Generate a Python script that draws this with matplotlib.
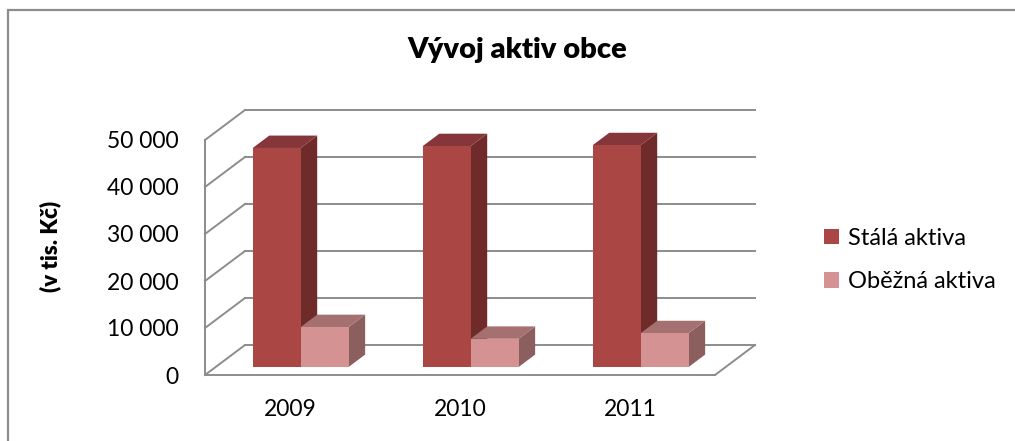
import matplotlib
matplotlib.use("Agg")
import matplotlib.pyplot as plt
from matplotlib.patches import Polygon, Patch, Rectangle
from matplotlib.ticker import FuncFormatter

plt.rcParams['font.family'] = ['Lato', 'DejaVu Sans']

# data
years = ['2009', '2010', '2011']
stala = [46600, 47000, 47200]      # Stálá aktiva
obezna = [8500, 6000, 7200]        # Oběžná aktiva
series_names = ['Stálá aktiva', 'Oběžná aktiva']
yticks = [0, 10000, 20000, 30000, 40000, 50000]

# colours: front, side, top
col_stala = ['#aa4643', '#6f2b29', '#86363a']
col_obezna = ['#d49392', '#8a5f5e', '#a57070']
grid_col = '#8c8c8c'

# fake 3d: full depth offset in data units
DX = 40 / 170
DY = 30 / 235 * 50000
d0, d1 = 0.267, 0.68    # bar front / back depth
bw = 0.282              # width of one bar

W, H = 1015, 441
fig = plt.figure(figsize=(W / 100, H / 100), dpi=100)
ax = fig.add_axes([205 / W, 1 - 375 / H, 510 / W, 235 / H])
ax.set_xlim(-0.5, 2.5)
ax.set_ylim(0, 50000)

# walls and floor
for v in yticks:
    ax.plot([-0.5 + DX, 2.5 + DX], [v + DY, v + DY], color=grid_col, lw=1.4, clip_on=False, zorder=1)
    ax.plot([-0.5, -0.5 + DX], [v, v + DY], color=grid_col, lw=1.4, clip_on=False, zorder=1)
ax.plot([2.5, 2.5 + DX], [0, DY], color=grid_col, lw=1.4, clip_on=False, zorder=1)


def bar3d(x0, val, cols):
    sx, sy = d0 * DX, d0 * DY
    ex, ey = d1 * DX, d1 * DY
    x1 = x0 + bw
    # side face
    side = Polygon([(x1 + sx, sy), (x1 + ex, ey), (x1 + ex, val + ey), (x1 + sx, val + sy)],
                   closed=True, facecolor=cols[1], edgecolor='none', clip_on=False, zorder=3)
    top = Polygon([(x0 + sx, val + sy), (x1 + sx, val + sy), (x1 + ex, val + ey), (x0 + ex, val + ey)],
                  closed=True, facecolor=cols[2], edgecolor='none', clip_on=False, zorder=3)
    ax.add_patch(side)
    ax.add_patch(top)
    ax.bar(x0 + sx, val, width=bw, bottom=sy, align='edge', color=cols[0],
           edgecolor='none', clip_on=False, zorder=3)


for i in range(len(years)):
    bar3d(i - bw, stala[i], col_stala)
    bar3d(i, obezna[i], col_obezna)

# axes styling
for s in ['top', 'right']:
    ax.spines[s].set_visible(False)
for s in ['left', 'bottom']:
    ax.spines[s].set_color(grid_col)
    ax.spines[s].set_linewidth(1.4)
    ax.spines[s].set_zorder(1)
ax.set_yticks(yticks)
ax.yaxis.set_major_formatter(FuncFormatter(lambda v, p: f"{int(v):,}".replace(',', ' ')))
ax.set_xticks(range(len(years)))
ax.set_xticklabels(years)
ax.tick_params(axis='y', length=0, pad=19, labelsize=16.5)
ax.tick_params(axis='x', length=0, pad=17, labelsize=16.5)
ax.patch.set_visible(False)

fig.text(517 / W, 1 - 50 / H, 'Vývoj aktiv obce', ha='center', va='center',
         fontsize=21, fontweight='heavy')
fig.text(50 / W, 1 - 246 / H, '(v tis. Kč)', ha='center', va='center',
         rotation=90, fontsize=16, fontweight='heavy')

handles = [Patch(facecolor=col_stala[0]), Patch(facecolor=col_obezna[0])]
fig.legend(handles, series_names, loc='center left', bbox_to_anchor=(824 / W, 1 - 260 / H),
           frameon=False, fontsize=17, handlelength=0.65, handleheight=0.65,
           handletextpad=0.35, labelspacing=0.95, borderpad=0, borderaxespad=0)

fig.patches.append(Rectangle((8 / W, -0.1), 1.2, 1.1 - 10 / H, transform=fig.transFigure,
                             fill=False, edgecolor=grid_col, lw=1.6))

fig.savefig('out.png', dpi=100)
